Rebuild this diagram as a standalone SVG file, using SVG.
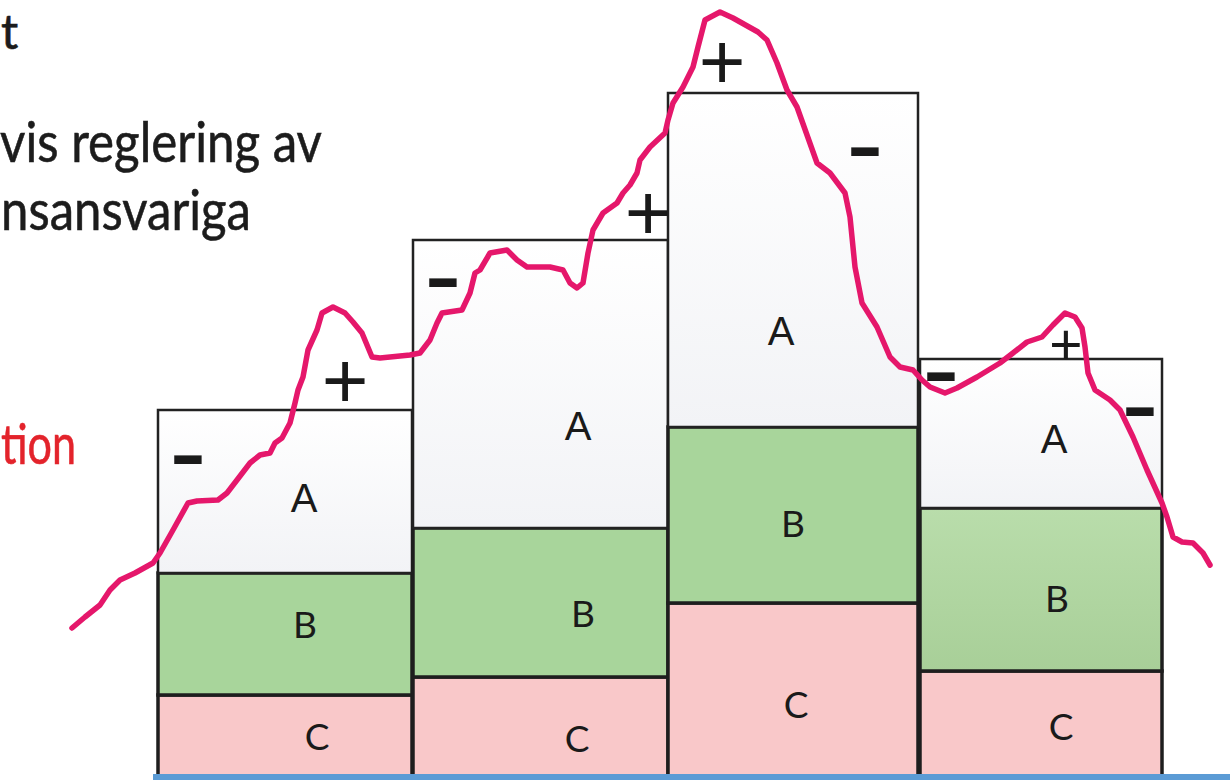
<svg xmlns="http://www.w3.org/2000/svg" width="1230" height="780" viewBox="0 0 1230 780">
<defs>
<linearGradient id="gA" x1="0" y1="0" x2="0" y2="1"><stop offset="0" stop-color="#ffffff"/><stop offset="1" stop-color="#f2f3f6"/></linearGradient>
<linearGradient id="gB4" x1="0" y1="0" x2="0" y2="1"><stop offset="0" stop-color="#b9ddab"/><stop offset="1" stop-color="#a8cf98"/></linearGradient>
<style>
.bg{fill:#ffffff}
.a{fill:url(#gA);stroke:#222;stroke-width:2.5}
.b{fill:#a8d59b;stroke:#1e1e1e;stroke-width:3.5}
.b4{fill:url(#gB4);stroke:#1e1e1e;stroke-width:3.5}
.c{fill:#f9c8c9;stroke:#1e1e1e;stroke-width:3.5}
.lbA{font-family:"Liberation Sans",Arial,sans-serif;font-size:40px;fill:#1a1a1a;text-anchor:middle}
.lb{font-family:"Lato","Liberation Sans",sans-serif;font-size:37px;fill:#1a1a1a;text-anchor:middle}
.pm{font-family:"Liberation Sans",Arial,sans-serif;font-size:80px;fill:#1a1a1a;text-anchor:middle}
.mn{font-family:"Liberation Sans",Arial,sans-serif;font-weight:bold;font-size:72px;fill:#1a1a1a;text-anchor:middle}
.tx{font-family:"Lato","Carlito","Liberation Sans",sans-serif;font-size:56px;fill:#1c1c1c;stroke:#1c1c1c;stroke-width:0.6}
.red{fill:#e3232b;stroke:#e3232b}
.curve{fill:none;stroke:#e5176b;stroke-width:5.5;stroke-linejoin:round;stroke-linecap:round}
</style>
</defs>
<rect class="bg" x="0" y="0" width="1230" height="780"/>

<g id="text-left">
<text class="tx" x="1" y="49" style="font-size:48px">t</text>
<text class="tx" x="0" y="162" textLength="322" lengthAdjust="spacingAndGlyphs">vis reglering av</text>
<text class="tx" x="1" y="230" textLength="250" lengthAdjust="spacingAndGlyphs">nsansvariga</text>
<text class="tx red" x="1" y="464" textLength="75" lengthAdjust="spacingAndGlyphs">tion</text>
</g>

<g id="col1">
<rect class="c" x="158" y="695" width="254" height="85"/>
<rect class="b" x="158" y="573" width="254" height="122"/>
<rect class="a" x="158" y="410" width="254" height="163"/>
<text class="lbA" x="304" y="512">A</text>
<text class="lb" x="305" y="638">B</text>
<text class="lb" x="317" y="750">C</text>
</g>

<g id="col2">
<rect class="c" x="413" y="677" width="255" height="103"/>
<rect class="b" x="413" y="528" width="255" height="149"/>
<rect class="a" x="413" y="240" width="255" height="288"/>
<text class="lbA" x="578" y="440">A</text>
<text class="lb" x="583" y="627">B</text>
<text class="lb" x="577" y="752">C</text>
</g>

<g id="col3">
<rect class="c" x="668" y="603" width="250" height="177"/>
<rect class="b" x="668" y="427" width="250" height="176"/>
<rect class="a" x="668" y="93" width="250" height="334"/>
<text class="lbA" x="781" y="345">A</text>
<text class="lb" x="793" y="537">B</text>
<text class="lb" x="796" y="718">C</text>
</g>

<g id="col4">
<rect class="c" x="920" y="671" width="242" height="109"/>
<rect class="b4" x="920" y="508" width="242" height="163"/>
<rect class="a" x="920" y="359" width="242" height="149"/>
<text class="lbA" x="1054" y="453">A</text>
<text class="lb" x="1057" y="612">B</text>
<text class="lb" x="1061" y="740">C</text>
</g>

<g id="baseline">
<rect x="153" y="774" width="1077" height="6" fill="#5b9bd5"/>
</g>

<g id="connectors">
<polyline class="curve" points="72,628 85,617 100,605 110,590 120,580 135,573 153,563 160,553 173,530 188,503 197,501 218,500 227,493 237,480 250,463 260,455 270,453 275,443 282,438 290,423 295,403 298,390 303,377 308,350 317,330 322,313 333,307 345,313 353,322 362,333 372,357 380,358 410,355 420,353 430,340 437,323 442,313 462,310 470,293 475,273 480,270 490,253 507,250 517,260 527,267 550,267 563,270 570,283 577,288 583,283 588,253 593,230 603,213 617,203 623,193 630,185 637,173 640,160 650,147 665,133 668,120 673,103 683,87 693,67 698,47 705,20 720,12 733,18 758,32 767,40 777,63 787,90 797,107 817,163 830,173 845,193 850,217 855,267 862,303 877,327 890,357 900,367 913,370 922,380 930,387 945,393 957,388 977,377 1000,363 1013,353 1027,342 1042,337 1053,325 1065,313 1075,317 1082,328 1085,347 1088,373 1095,390 1110,400 1120,410 1133,437 1147,470 1162,503 1167,517 1173,537 1182,542 1193,543 1203,553 1210,565"/>
</g>

<g id="signs">
<text class="mn" transform="translate(188,478) scale(1.5,1)">-</text>
<text class="pm" x="345" y="408">+</text>
<text class="mn" transform="translate(443,301) scale(1.5,1)">-</text>
<text class="pm" x="648" y="240">+</text>
<text class="pm" x="722" y="89">+</text>
<text class="mn" transform="translate(865,170) scale(1.5,1)">-</text>
<text class="mn" transform="translate(941,395) scale(1.5,1)">-</text>
<text class="pm" x="1066" y="364" style="font-size:57px">+</text>
<text class="mn" transform="translate(1140,430) scale(1.5,1)">-</text>
</g>
</svg>
